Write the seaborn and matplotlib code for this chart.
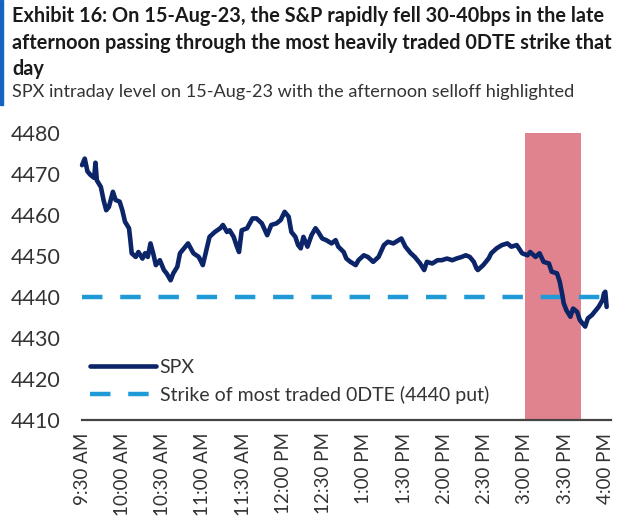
import matplotlib.pyplot as plt
import pandas as pd
import seaborn as sns
from matplotlib.patches import Rectangle

plt.switch_backend("Agg")

# Minutes after the 9:30 AM open
minutes = [0, 2, 4, 6, 9, 10, 11, 14, 16, 18, 20, 23, 25, 28, 30, 32, 35, 36, 37, 40,
           42, 45, 47, 49, 51, 53, 55, 58, 61, 63, 66, 68, 71, 73, 77, 79, 83, 87, 90, 93,
           95, 99, 103, 105, 108, 110, 113, 115, 117, 119, 123, 127, 130, 134, 138, 141, 145, 148, 151, 154,
           156, 159, 161, 163, 165, 168, 171, 174, 176, 179, 182, 186, 189, 191, 195, 197, 200, 204, 206, 210,
           213, 217, 221, 225, 228, 232, 236, 238, 241, 245, 248, 252, 255, 257, 261, 265, 268, 272, 276, 279,
           283, 286, 289, 292, 294, 295, 299, 303, 305, 309, 313, 317, 320, 324, 328, 332, 334, 338, 341, 344,
           348, 350, 354, 356, 358, 359, 361, 364, 366, 369, 371, 375, 377, 380, 382, 385, 388, 389, 390, 391]

spx = [4472.2, 4473.8, 4470.7, 4469.9, 4469.1, 4472.8, 4468.5, 4466.9, 4463.7, 4461.2,
       4462.0, 4465.7, 4463.7, 4463.3, 4461.2, 4458.4, 4456.8, 4453.9, 4450.7, 4449.8,
       4451.0, 4449.4, 4450.7, 4449.8, 4453.1, 4450.7, 4447.8, 4449.0, 4446.6, 4445.8,
       4444.1, 4445.8, 4447.4, 4450.7, 4452.3, 4453.1, 4450.7, 4449.8, 4447.8, 4451.9,
       4454.7, 4455.9, 4456.8, 4457.6, 4455.9, 4456.3, 4454.7, 4452.7, 4451.0, 4456.3,
       4456.8, 4459.2, 4459.2, 4458.0, 4455.1, 4457.6, 4458.0, 4458.8, 4460.8, 4459.6,
       4455.9, 4454.7, 4452.7, 4451.9, 4454.7, 4452.3, 4455.1, 4456.8, 4455.9, 4454.3,
       4453.9, 4453.1, 4453.9, 4452.3, 4451.0, 4449.4, 4448.6, 4447.8, 4449.0, 4450.2,
       4449.8, 4448.6, 4449.8, 4452.7, 4453.5, 4453.1, 4453.9, 4454.3, 4452.3, 4450.7,
       4449.8, 4448.2, 4446.6, 4448.6, 4448.2, 4449.0, 4449.0, 4449.4, 4449.0, 4449.4,
       4449.8, 4450.2, 4449.8, 4448.6, 4447.0, 4446.6, 4447.8, 4449.4, 4450.7, 4451.9,
       4452.7, 4453.1, 4452.3, 4452.7, 4450.7, 4450.2, 4451.0, 4449.8, 4450.7, 4448.6,
       4448.2, 4446.2, 4445.8, 4443.8, 4440.5, 4438.5, 4436.8, 4435.2, 4437.2, 4436.4,
       4434.4, 4432.8, 4434.8, 4435.6, 4436.4, 4437.6, 4439.3, 4440.9, 4441.3, 4437.6]

strike = 4440
selloff_window = (330, 372)  # minutes after open

tick_minutes = [0, 30, 60, 90, 120, 150, 180, 210, 240, 270, 300, 330, 360, 390]
tick_labels = ["9:30 AM", "10:00 AM", "10:30 AM", "11:00 AM", "11:30 AM", "12:00 PM",
               "12:30 PM", "1:00 PM", "1:30 PM", "2:00 PM", "2:30 PM", "3:00 PM",
               "3:30 PM", "4:00 PM"]
y_ticks = [4410, 4420, 4430, 4440, 4450, 4460, 4470, 4480]

title = ("Exhibit 16: On 15-Aug-23, the S&P rapidly fell 30-40bps in the late\n"
         "afternoon passing through the most heavily traded 0DTE strike that\n"
         "day")
subtitle = "SPX intraday level on 15-Aug-23 with the afternoon selloff highlighted"

NAVY = "#0c2468"
LIGHT_BLUE = "#1f9ad6"
SHADE = "#e0838f"
TEXT = "#333333"

sns.set_theme(style="white")
plt.rcParams["font.family"] = ["Lato", "DejaVu Sans"]

df = pd.DataFrame({"minute": minutes, "SPX": spx})

fig = plt.figure(figsize=(6.17, 5.23), dpi=100)
ax = fig.add_axes([72 / 617, 103 / 523, 540 / 617, 295 / 523])

ax.axvspan(selloff_window[0], selloff_window[1], ymin=0, ymax=70 / 72,
           color=SHADE, lw=0, zorder=0)
ax.plot([0, 392], [strike, strike], color=LIGHT_BLUE, lw=3.2,
        dashes=(4.6, 4.0), label="Strike of most traded 0DTE (4440 put)", zorder=2)
sns.lineplot(data=df, x="minute", y="SPX", ax=ax, color=NAVY, lw=3.3,
             label="SPX", zorder=3)

ax.set_xlim(-7.5, 395)
ax.set_ylim(4410, 4482)
ax.set_xticks(tick_minutes)
ax.set_xticklabels(tick_labels, rotation=90, fontsize=13.5, color=TEXT)
ax.set_yticks(y_ticks)
ax.set_yticklabels([str(v) for v in y_ticks], fontsize=15.5, color=TEXT)
ax.tick_params(axis="x", length=0, pad=9)
ax.tick_params(axis="y", length=0, pad=8)
ax.set_xlabel("")
ax.set_ylabel("")

for side in ["top", "right", "left"]:
    ax.spines[side].set_visible(False)
ax.spines["bottom"].set_color("#444444")
ax.spines["bottom"].set_linewidth(1.6)
ax.spines["bottom"].set_bounds(0, 394)

handles, labels = ax.get_legend_handles_labels()
order = [labels.index("SPX"), labels.index("Strike of most traded 0DTE (4440 put)")]
leg = ax.legend([handles[i] for i in order], [labels[i] for i in order],
                loc="upper left", bbox_to_anchor=(0.033, 0.207), frameon=False,
                fontsize=14, handlelength=3.4, handletextpad=0.2, labelspacing=0.5,
                borderpad=0, borderaxespad=0)
for t in leg.get_texts():
    t.set_color(TEXT)

fig.text(12 / 617, 1 - 6 / 523, title, ha="left", va="top", fontsize=14.3,
         fontweight="bold", color="#1a1a1a", linespacing=1.42)
fig.text(12 / 617, 1 - 84 / 523, subtitle, ha="left", va="top", fontsize=13.1,
         color=TEXT)
fig.patches.append(Rectangle((0, 1 - 105 / 523), 3 / 617, 105 / 523,
                             transform=fig.transFigure, color="#1565c0"))

fig.savefig("out.png", dpi=100)
